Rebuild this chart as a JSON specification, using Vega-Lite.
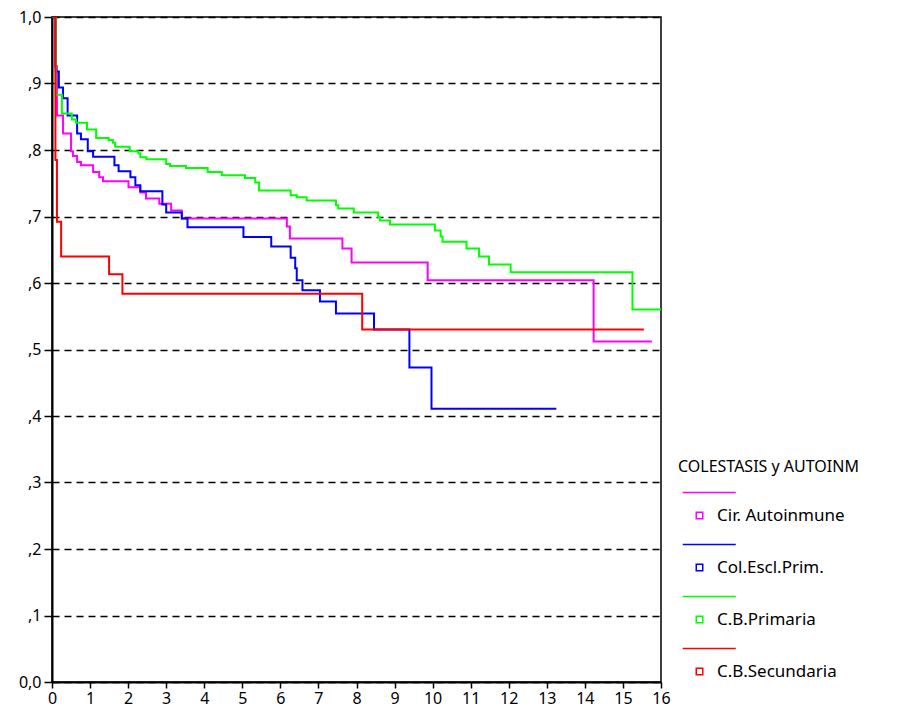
{
  "$schema": "https://vega.github.io/schema/vega-lite/v6.json",
  "width": 609,
  "height": 665,
  "autosize": {"type": "none"},
  "padding": {"left": 52, "top": 17, "right": 261, "bottom": 33},
  "background": "white",
  "config": {
    "font": "Noto Sans",
    "view": {"stroke": "black", "strokeWidth": 1.5},
    "axis": {"labelColor": "black", "domainColor": "black", "tickColor": "black", "labelFont": "Noto Sans", "labelFontSize": 16, "domainWidth": 2, "tickWidth": 1.5}
  },
  "data": {
    "values": [
      {"s": "Cir. Autoinmune", "t": 0, "p": 1.0},
      {"s": "Cir. Autoinmune", "t": 0.08, "p": 0.926},
      {"s": "Cir. Autoinmune", "t": 0.13, "p": 0.852},
      {"s": "Cir. Autoinmune", "t": 0.29, "p": 0.825},
      {"s": "Cir. Autoinmune", "t": 0.5, "p": 0.798},
      {"s": "Cir. Autoinmune", "t": 0.55, "p": 0.791},
      {"s": "Cir. Autoinmune", "t": 0.66, "p": 0.782},
      {"s": "Cir. Autoinmune", "t": 0.76, "p": 0.777},
      {"s": "Cir. Autoinmune", "t": 1.08, "p": 0.767},
      {"s": "Cir. Autoinmune", "t": 1.24, "p": 0.759},
      {"s": "Cir. Autoinmune", "t": 1.34, "p": 0.753},
      {"s": "Cir. Autoinmune", "t": 2.01, "p": 0.744},
      {"s": "Cir. Autoinmune", "t": 2.32, "p": 0.736},
      {"s": "Cir. Autoinmune", "t": 2.47, "p": 0.727},
      {"s": "Cir. Autoinmune", "t": 2.82, "p": 0.719},
      {"s": "Cir. Autoinmune", "t": 3.13, "p": 0.709},
      {"s": "Cir. Autoinmune", "t": 3.41, "p": 0.697},
      {"s": "Cir. Autoinmune", "t": 6.17, "p": 0.685},
      {"s": "Cir. Autoinmune", "t": 6.25, "p": 0.667},
      {"s": "Cir. Autoinmune", "t": 7.63, "p": 0.652},
      {"s": "Cir. Autoinmune", "t": 7.87, "p": 0.631},
      {"s": "Cir. Autoinmune", "t": 9.87, "p": 0.604},
      {"s": "Cir. Autoinmune", "t": 14.23, "p": 0.512},
      {"s": "Cir. Autoinmune", "t": 15.76, "p": 0.512},

      {"s": "Col.Escl.Prim.", "t": 0, "p": 1.0},
      {"s": "Col.Escl.Prim.", "t": 0.1, "p": 0.918},
      {"s": "Col.Escl.Prim.", "t": 0.18, "p": 0.894},
      {"s": "Col.Escl.Prim.", "t": 0.29, "p": 0.878},
      {"s": "Col.Escl.Prim.", "t": 0.41, "p": 0.852},
      {"s": "Col.Escl.Prim.", "t": 0.66, "p": 0.825},
      {"s": "Col.Escl.Prim.", "t": 0.76, "p": 0.816},
      {"s": "Col.Escl.Prim.", "t": 0.94, "p": 0.798},
      {"s": "Col.Escl.Prim.", "t": 1.08, "p": 0.79},
      {"s": "Col.Escl.Prim.", "t": 1.64, "p": 0.777},
      {"s": "Col.Escl.Prim.", "t": 1.75, "p": 0.768},
      {"s": "Col.Escl.Prim.", "t": 2.06, "p": 0.759},
      {"s": "Col.Escl.Prim.", "t": 2.19, "p": 0.747},
      {"s": "Col.Escl.Prim.", "t": 2.32, "p": 0.738},
      {"s": "Col.Escl.Prim.", "t": 2.9, "p": 0.718},
      {"s": "Col.Escl.Prim.", "t": 3.0, "p": 0.706},
      {"s": "Col.Escl.Prim.", "t": 3.41, "p": 0.697},
      {"s": "Col.Escl.Prim.", "t": 3.56, "p": 0.684},
      {"s": "Col.Escl.Prim.", "t": 5.03, "p": 0.669},
      {"s": "Col.Escl.Prim.", "t": 5.76, "p": 0.655},
      {"s": "Col.Escl.Prim.", "t": 6.27, "p": 0.638},
      {"s": "Col.Escl.Prim.", "t": 6.39, "p": 0.622},
      {"s": "Col.Escl.Prim.", "t": 6.43, "p": 0.604},
      {"s": "Col.Escl.Prim.", "t": 6.58, "p": 0.589},
      {"s": "Col.Escl.Prim.", "t": 7.04, "p": 0.572},
      {"s": "Col.Escl.Prim.", "t": 7.46, "p": 0.554},
      {"s": "Col.Escl.Prim.", "t": 8.46, "p": 0.53},
      {"s": "Col.Escl.Prim.", "t": 9.39, "p": 0.473},
      {"s": "Col.Escl.Prim.", "t": 9.97, "p": 0.411},
      {"s": "Col.Escl.Prim.", "t": 13.25, "p": 0.411},

      {"s": "C.B.Primaria", "t": 0, "p": 1.0},
      {"s": "C.B.Primaria", "t": 0.1, "p": 0.883},
      {"s": "C.B.Primaria", "t": 0.26, "p": 0.855},
      {"s": "C.B.Primaria", "t": 0.52, "p": 0.846},
      {"s": "C.B.Primaria", "t": 0.63, "p": 0.841},
      {"s": "C.B.Primaria", "t": 0.92, "p": 0.831},
      {"s": "C.B.Primaria", "t": 1.16, "p": 0.818},
      {"s": "C.B.Primaria", "t": 1.49, "p": 0.815},
      {"s": "C.B.Primaria", "t": 1.6, "p": 0.811},
      {"s": "C.B.Primaria", "t": 1.66, "p": 0.805},
      {"s": "C.B.Primaria", "t": 2.04, "p": 0.798},
      {"s": "C.B.Primaria", "t": 2.27, "p": 0.795},
      {"s": "C.B.Primaria", "t": 2.32, "p": 0.789},
      {"s": "C.B.Primaria", "t": 2.48, "p": 0.786},
      {"s": "C.B.Primaria", "t": 3.0, "p": 0.779},
      {"s": "C.B.Primaria", "t": 3.1, "p": 0.776},
      {"s": "C.B.Primaria", "t": 3.52, "p": 0.773},
      {"s": "C.B.Primaria", "t": 4.09, "p": 0.767},
      {"s": "C.B.Primaria", "t": 4.46, "p": 0.762},
      {"s": "C.B.Primaria", "t": 5.07, "p": 0.758},
      {"s": "C.B.Primaria", "t": 5.34, "p": 0.751},
      {"s": "C.B.Primaria", "t": 5.44, "p": 0.739},
      {"s": "C.B.Primaria", "t": 6.27, "p": 0.732},
      {"s": "C.B.Primaria", "t": 6.43, "p": 0.729},
      {"s": "C.B.Primaria", "t": 6.69, "p": 0.724},
      {"s": "C.B.Primaria", "t": 7.46, "p": 0.717},
      {"s": "C.B.Primaria", "t": 7.52, "p": 0.712},
      {"s": "C.B.Primaria", "t": 7.93, "p": 0.706},
      {"s": "C.B.Primaria", "t": 8.57, "p": 0.699},
      {"s": "C.B.Primaria", "t": 8.62, "p": 0.694},
      {"s": "C.B.Primaria", "t": 8.88, "p": 0.688},
      {"s": "C.B.Primaria", "t": 10.06, "p": 0.679},
      {"s": "C.B.Primaria", "t": 10.21, "p": 0.67},
      {"s": "C.B.Primaria", "t": 10.26, "p": 0.662},
      {"s": "C.B.Primaria", "t": 10.89, "p": 0.652},
      {"s": "C.B.Primaria", "t": 11.22, "p": 0.64},
      {"s": "C.B.Primaria", "t": 11.48, "p": 0.628},
      {"s": "C.B.Primaria", "t": 12.05, "p": 0.616},
      {"s": "C.B.Primaria", "t": 15.25, "p": 0.56},
      {"s": "C.B.Primaria", "t": 16.0, "p": 0.56},

      {"s": "C.B.Secundaria", "t": 0, "p": 1.0},
      {"s": "C.B.Secundaria", "t": 0.09, "p": 0.785},
      {"s": "C.B.Secundaria", "t": 0.13, "p": 0.692},
      {"s": "C.B.Secundaria", "t": 0.24, "p": 0.64},
      {"s": "C.B.Secundaria", "t": 1.5, "p": 0.613},
      {"s": "C.B.Secundaria", "t": 1.85, "p": 0.584},
      {"s": "C.B.Secundaria", "t": 8.15, "p": 0.53},
      {"s": "C.B.Secundaria", "t": 15.55, "p": 0.53}
    ]
  },
  "mark": {"type": "line", "interpolate": "step-after", "strokeWidth": 2, "clip": true},
  "encoding": {
    "x": {
      "field": "t", "type": "quantitative",
      "scale": {"domain": [0, 16], "nice": false, "zero": false},
      "axis": {"title": null, "values": [0,1,2,3,4,5,6,7,8,9,10,11,12,13,14,15,16], "grid": false, "tickSize": 6, "labelPadding": 2, "labelFlush": false, "labelOverlap": false}
    },
    "y": {
      "field": "p", "type": "quantitative",
      "scale": {"domain": [0, 1], "nice": false},
      "axis": {
        "title": null,
        "values": [0, 0.1, 0.2, 0.3, 0.4, 0.5, 0.6, 0.7, 0.8, 0.9, 1.0],
        "labelExpr": "datum.value == 0 ? '0,0' : (datum.value == 1 ? '1,0' : ',' + round(datum.value * 10))",
        "grid": true, "gridColor": "black", "gridDash": [7, 5], "gridWidth": 1.5, "gridOpacity": 1,
        "tickSize": 8, "labelPadding": 3, "labelFlush": false, "labelOverlap": false
      }
    },
    "color": {
      "field": "s", "type": "nominal",
      "sort": ["Cir. Autoinmune", "Col.Escl.Prim.", "C.B.Primaria", "C.B.Secundaria"],
      "scale": {"domain": ["Cir. Autoinmune", "Col.Escl.Prim.", "C.B.Primaria", "C.B.Secundaria"], "range": ["#ff00ff", "#0000ff", "#00ff00", "#ff0000"]},
      "legend": {
        "title": "COLESTASIS y AUTOINM",
        "orient": "none", "legendX": 626, "legendY": 442,
        "padding": 0,
        "titleFont": "Noto Sans", "titleFontSize": 16, "titleFontWeight": "normal", "titleColor": "black", "titlePadding": 32, "titleLimit": 400,
        "labelFont": "Noto Sans", "labelFontSize": 17, "labelColor": "black", "labelOffset": 22, "labelLimit": 400,
        "symbolType": "M1.95,-0.65H3.25V0.65H1.95Z M-0.75,-4.6H9.85",
        "symbolSize": 100, "symbolStrokeWidth": 1.5, "symbolFillColor": "transparent",
        "rowPadding": 17
      }
    }
  }
}
